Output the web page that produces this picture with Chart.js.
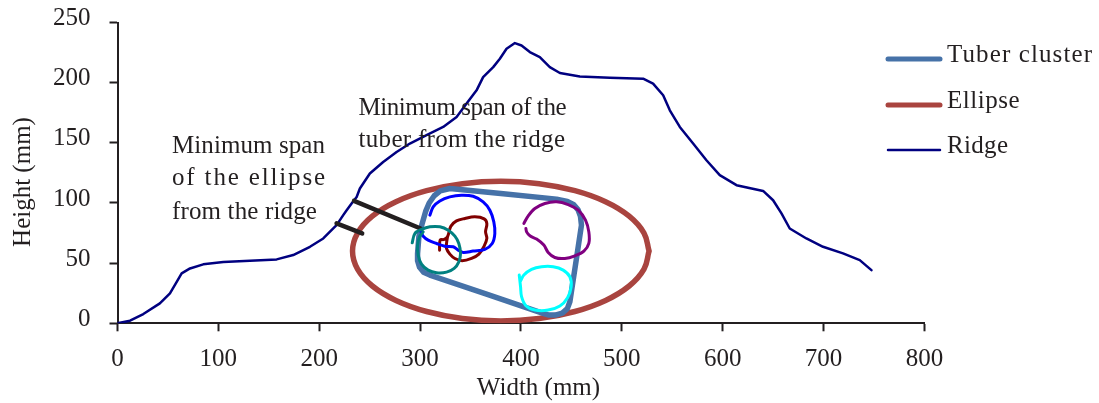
<!DOCTYPE html>
<html>
<head>
<meta charset="utf-8">
<script src="https://cdn.jsdelivr.net/npm/chart.js@4/dist/chart.umd.min.js"></script>
<style>
html,body{margin:0;padding:0;background:#ffffff;}
#wrap{position:relative;width:1099px;height:403px;}
</style>
</head>
<body>
<div id="wrap"><canvas id="c" width="1099" height="403"></canvas></div>
<script>
// ---------- data (mm) ----------
const xTickLabels = ['0','100','200','300','400','500','600','700','800'];
const yTickLabels = ['0','50','100','150','200','250'];
const xTitle = 'Width (mm)';
const yTitle = 'Height (mm)';
const legendLabels = ['Tuber cluster', 'Ellipse', 'Ridge'];
const note1 = ['Minimum span', 'of the ellipse', 'from the ridge'];
const note2 = ['Minimum span of the', 'tuber from the ridge'];

const ridge = [[0,0],[12.4,2.2],[25.6,7.7],[42,16.6],[52,24.9],[58.7,34.5],[63.6,41.5],[71.9,45.6],[85,49],
  [104.9,50.9],[131.3,52],[157.8,53.1],[174.2,56.7],[190.8,63.6],[204,70.5],[213.9,78.8],[217.2,81.6],
  [223.8,89.9],[227.2,94],[232.1,99.6],[237.1,105],[240.3,112],[243.6,116.2],[250.2,124.5],[263.4,134.1],
  [276.7,142.4],[289.9,149.4],[306.4,156.3],[322.9,163.2],[336.2,171.5],[346.1,182.6],[356,193.6],
  [362.5,204.6],[372.5,212.9],[379.1,219.9],[385.7,228.2],[394,232.9],[400.6,230.9],[408.8,225.4],
  [418.7,221.2],[428.6,212.9],[438.6,208],[458.4,205.2],[488.1,204.1],[521.1,203.3],[531,199.2],
  [541,189.5],[547.6,177],[557.5,163.2],[570.7,149.4],[583.9,135.5],[597.1,123.1],[613.7,114.8],
  [640.1,110],[650,102.3],[658.3,91.3],[666.5,78.8],[683,70.5],[699.5,63.6],[719.3,58.1],[735.9,52.5],
  [747.5,44.2]];

const ellipse = [[527,60],[522,75],[507.3,89],[483.9,101],[453.5,110.2],[418,116],[380,118],[342,116],
  [306.5,110.2],[276.1,101],[252.7,89],[238,75],[233,60],[238,45],[252.7,31],[276.1,19],[306.5,9.8],
  [342,4],[380,2],[418,4],[453.5,9.8],[483.9,19],[507.3,31],[522,45],[527,60]];

const tuberCluster = [[329.5,112],[380,107.8],[435.3,103.2],[446,101.3],[452,98.8],[456.5,94.5],[459,89],
  [460,81.6],[454.3,49.8],[448.5,17.9],[446,12.2],[441,8.5],[434,6.8],[427,7],[422,8.3],[365.9,24.2],
  [309.7,40.1],[303.5,42.5],[299.5,46.5],[297.5,52],[297.5,58],[298.8,71.9],[302.1,83],[305.5,93],
  [309,100],[314,106],[320,110],[329.5,112]];

const tuberBlue = [[309.7,89.9],[313,96.8],[319.6,101.7],[329.5,105.1],[341.1,106.5],[352.6,105.6],
  [362.5,100.9],[369.2,94],[373.1,84.3],[374.1,74.6],[371.5,66.3],[364.2,61.4],[352.6,60],[342.7,58.9],
  [337.8,60.8],[332.8,63.6],[324.5,64.1],[316.3,66.3],[308,69.1],[303.1,72.4],[300.8,76]];
const tuberDarkRed = [[319.3,60.8],[319.9,69.1],[323.9,69.7],[327.2,71.9],[330.5,80.7],[336.1,85.1],
  [344.4,87.1],[354.3,88.5],[363.5,86.8],[366.2,82.9],[364.9,76],[366.2,70.5],[363.5,64.1],[358.3,57.5],
  [351,53.9],[341.7,52],[334.5,53.9],[329.5,57.5],[326.2,62.2],[326.2,66.3],[327.2,71.9]];
const tuberTeal = [[292.2,66.9],[294.8,74.6],[301.4,78],[309.7,80.2],[319.6,80.2],[327.9,77.4],[334.5,72.4],
  [338.4,66.3],[340.1,58],[338.4,51.1],[333.8,45.6],[326.2,42.5],[316.3,42],[308,44.2],[301.4,49.2],
  [298.1,56.7],[297.5,65],[299.4,71.9],[303.1,76]];
const tuberPurple = [[402.9,83],[407.2,89.3],[413.8,95.4],[423.7,99.6],[435.3,101],[446.8,98.7],[456.8,94],
  [464,85.7],[467.3,76],[467.3,66.4],[462.4,60],[453.5,56.1],[443.5,53.9],[433.6,54.7],[427,58.9],
  [422.7,65],[415.5,70],[408.9,72.7],[405.6,76],[404.9,78.8]];
const tuberCyan = [[398.3,40.1],[399.6,30.4],[400.6,22.1],[404.9,14.6],[413.8,11],[427,11],[438.6,14.4],
  [446.2,21.3],[449.8,30.4],[448.5,38.7],[441.9,44.2],[432,47],[420.4,47],[410.5,44.8],[402.9,40.1],
  [399.6,35.1]];

const spanTuber = [[234.5,101.7],[300.5,78.8]];
const spanEllipse = [[217.2,83],[242.6,74.7]];

// ---------- styles ----------
const FONT = "'Liberation Serif', 'Times New Roman', serif";
const TXT = '#231F20';
const C_CLUSTER = '#4672A8';
const C_ELLIPSE = '#A9443F';
const C_RIDGE = '#000080';

function pts(a){ return a.map(p => ({x:p[0], y:p[1]})); }
function ds(label, arr, color, width, order, tension){
  return {label, data: pts(arr), showLine:true, borderColor:color, backgroundColor:color,
    borderWidth:width, pointRadius:0, pointHoverRadius:0, fill:false, tension: tension||0,
    borderCapStyle:'round', borderJoinStyle:'round', order};
}

const datasets = [
  ds('Tuber cluster', tuberCluster, C_CLUSTER, 5.5, 8, 0),
  ds('Ellipse', ellipse, C_ELLIPSE, 5.5, 9, 0.4),
  ds('Ridge', ridge, C_RIDGE, 2.5, 7, 0),
  ds('spanTuber', spanTuber, TXT, 4.5, 6, 0),
  ds('spanEllipse', spanEllipse, TXT, 4.5, 6, 0),
  ds('t1', tuberBlue, '#0000FF', 3, 2, 0.35),
  ds('t2', tuberDarkRed, '#800000', 3, 3, 0.35),
  ds('t3', tuberTeal, '#008080', 3, 1, 0.35),
  ds('t4', tuberPurple, '#800080', 3, 4, 0.35),
  ds('t5', tuberCyan, '#00FFFF', 3, 5, 0.35)
];

function justified(ctx, text, x, y, width){
  ctx.letterSpacing = '0px';
  const w = ctx.measureText(text).width;
  const n = Array.from(text).length;
  const ls = n > 1 ? (width - w) / (n - 1) : 0;
  ctx.letterSpacing = ls.toFixed(2) + 'px';
  ctx.fillText(text, x, y);
  ctx.letterSpacing = '0px';
}

const decor = {
  id: 'decor',
  afterDraw(chart){
    const ctx = chart.ctx;
    ctx.save();
    ctx.fillStyle = TXT;
    ctx.font = '25px ' + FONT;
    ctx.textBaseline = 'alphabetic';
    ctx.textAlign = 'left';
    // annotation 1
    const n1w = [153, 153, 145];
    const n1y = [153, 185, 218.5];
    note1.forEach((t,i) => justified(ctx, t, 172, n1y[i], n1w[i]));
    // annotation 2
    const n2w = [208, 206.5];
    const n2y = [114.5, 146.7];
    note2.forEach((t,i) => justified(ctx, t, 358.5, n2y[i], n2w[i]));
    // legend
    const ly = [59, 105, 150];
    const lw = [5, 5, 2.5];
    const tw = [145, 72.5, 61];
    const lc = [C_CLUSTER, C_ELLIPSE, C_RIDGE];
    legendLabels.forEach((t,i) => {
      ctx.strokeStyle = lc[i];
      ctx.lineWidth = lw[i];
      ctx.lineCap = 'round';
      ctx.beginPath();
      ctx.moveTo(888, ly[i]);
      ctx.lineTo(940, ly[i]);
      ctx.stroke();
      ctx.fillStyle = TXT;
      justified(ctx, t, 947, ly[i] + 2.5, tw[i]);
    });
    // axis titles
    ctx.textAlign = 'center';
    ctx.fillText(xTitle, 538.5, 395);
    ctx.translate(30, 182);
    ctx.rotate(-Math.PI/2);
    ctx.fillText(yTitle, 0, 0);
    ctx.restore();
  }
};

const axisCommon = {
  type:'linear',
  grid:{display:true, drawOnChartArea:false, drawTicks:true, tickLength:8, tickWidth:2, tickColor:TXT},
  border:{display:true, color:TXT, width:2}
};

new Chart(document.getElementById('c'), {
  type:'scatter',
  data:{datasets},
  options:{
    responsive:false, animation:false, devicePixelRatio:1,
    layout:{padding:{left:0, right:174.6, top:22.5, bottom:0}},
    plugins:{legend:{display:false}, tooltip:{enabled:false}, title:{display:false}},
    scales:{
      x:Object.assign({}, axisCommon, {
        min:0, max:800,
        ticks:{stepSize:100, color:TXT, padding:13, font:{family:FONT, size:25},
          callback:(v)=>{ const i = xTickLabels.indexOf(String(v)); return i>=0 ? xTickLabels[i] : ''; }},
        afterFit(s){ s.height = 79.7; s.paddingLeft = 0; s.paddingRight = 0; }
      }),
      y:Object.assign({}, axisCommon, {
        min:0, max:250,
        ticks:{stepSize:50, color:TXT, padding:19, labelOffset:-4, font:{family:FONT, size:25},
          callback:(v)=>{ const i = yTickLabels.indexOf(String(v)); return i>=0 ? yTickLabels[i] : ''; }},
        afterFit(s){ s.width = 117.5; s.paddingTop = 0; s.paddingBottom = 0; }
      })
    }
  },
  plugins:[decor]
});
</script>
</body>
</html>
